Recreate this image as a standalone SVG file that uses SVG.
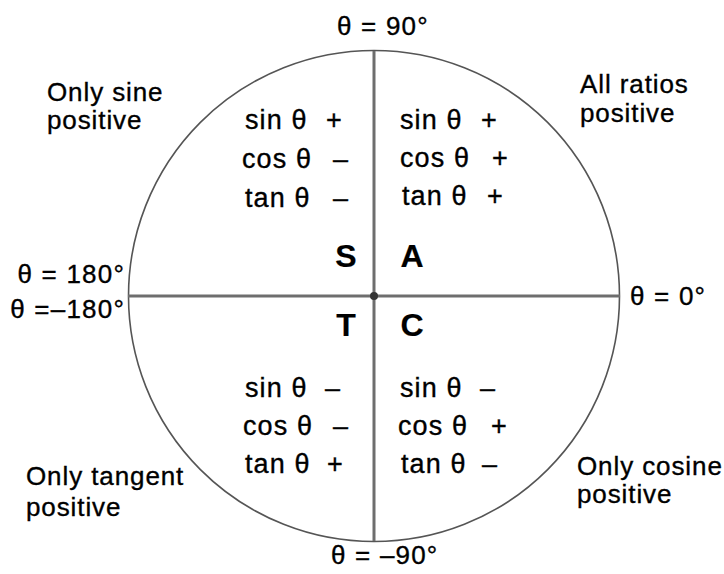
<svg xmlns="http://www.w3.org/2000/svg" width="724" height="574" viewBox="0 0 724 574">
<style>
text{font-family:"Liberation Sans",Arial,sans-serif;fill:#000;stroke:#000;stroke-width:0.35}
.r{font-size:27px;letter-spacing:1.1px}
.l{font-size:26px;letter-spacing:0.9px}
.a{font-size:26px;letter-spacing:1.2px}
.q{font-size:32px;font-weight:bold;text-anchor:middle;stroke-width:0.2}
.ax{stroke:#6e6e6e;stroke-width:3;fill:none}
.c{stroke:#555;stroke-width:1.6;fill:none}
</style>
<rect width="724" height="574" fill="#fff"/>
<g id="circle"><circle class="c" cx="374" cy="296" r="245.5"/></g>
<g id="connectors">
<line class="ax" x1="374" y1="51" x2="374" y2="541"/>
<line class="ax" x1="128" y1="296" x2="620" y2="296"/>
</g>
<g id="origin"><circle cx="374" cy="296" r="4" fill="#333"/></g>
<g id="angles">
<text class="a" x="337" y="35">θ = 90°</text>
<text class="a" x="125" y="283" text-anchor="end">θ = 180°</text>
<text class="a" x="125" y="318" text-anchor="end">θ =–180°</text>
<text class="a" x="630" y="305">θ = 0°</text>
<text class="a" x="331" y="564">θ = –90°</text>
</g>
<g id="quadrant-S">
<text class="l" x="47" y="101">Only sine</text>
<text class="l" x="47" y="129">positive</text>
<text class="r" x="245" y="129">sin θ<tspan x="326">+</tspan></text>
<text class="r" x="242" y="168">cos θ<tspan x="333">–</tspan></text>
<text class="r" x="245" y="207">tan θ<tspan x="333">–</tspan></text>
<text class="q" x="346" y="267">S</text>
</g>
<g id="quadrant-A">
<text class="l" x="580" y="93">All ratios</text>
<text class="l" x="580" y="122">positive</text>
<text class="r" x="400" y="129">sin θ<tspan x="481">+</tspan></text>
<text class="r" x="400" y="167">cos θ<tspan x="492">+</tspan></text>
<text class="r" x="402" y="205">tan θ<tspan x="487">+</tspan></text>
<text class="q" x="412" y="267">A</text>
</g>
<g id="quadrant-T">
<text class="l" x="26" y="485">Only tangent</text>
<text class="l" x="26" y="516">positive</text>
<text class="r" x="245" y="397">sin θ<tspan x="325">–</tspan></text>
<text class="r" x="243" y="435">cos θ<tspan x="333">–</tspan></text>
<text class="r" x="245" y="473">tan θ<tspan x="327">+</tspan></text>
<text class="q" x="346" y="336">T</text>
</g>
<g id="quadrant-C">
<text class="l" x="577" y="475">Only cosine</text>
<text class="l" x="577" y="503">positive</text>
<text class="r" x="400" y="397">sin θ<tspan x="480">–</tspan></text>
<text class="r" x="398" y="435">cos θ<tspan x="491">+</tspan></text>
<text class="r" x="401" y="473">tan θ<tspan x="482">–</tspan></text>
<text class="q" x="412" y="336">C</text>
</g>
</svg>
